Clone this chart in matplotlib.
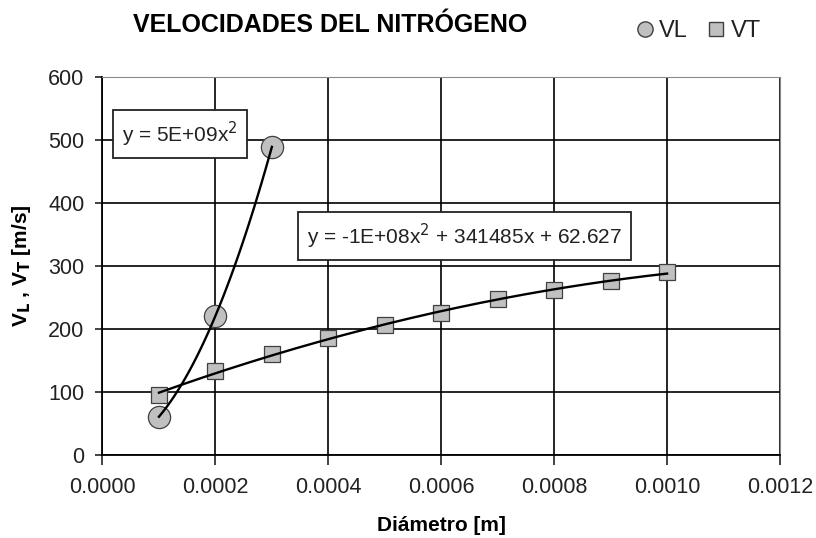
import numpy as np
import matplotlib
matplotlib.use("Agg")
import matplotlib.pyplot as plt
from matplotlib.lines import Line2D

plt.rcParams['font.family'] = ['Liberation Sans', 'DejaVu Sans']

# diametro [m] y velocidades [m/s]
d_vl = [0.0001, 0.0002, 0.0003]
vl = [61, 221, 489]
d_vt = [0.0001, 0.0002, 0.0003, 0.0004, 0.0005, 0.0006, 0.0007, 0.0008, 0.0009, 0.0010]
vt = [95, 133, 161, 186, 206, 226, 247, 262, 276, 290]

eq_vl = "y = 5E+09x$^2$"
eq_vt = "y = -1E+08x$^2$ + 341485x + 62.627"

fig = plt.figure(figsize=(8.16, 5.38), dpi=100)
ax = fig.add_axes([0.1256, 0.154, 0.8303, 0.703])

marker_fill = '#c0c0c0'
marker_edge = '#404040'

# curvas de tendencia (polinomio de grado 2)
xs = np.linspace(min(d_vl), max(d_vl), 100)
ax.plot(xs, np.polyval(np.polyfit(d_vl, vl, 2), xs), color='black', lw=1.7, zorder=3)
xs2 = np.linspace(min(d_vt), max(d_vt), 200)
ax.plot(xs2, np.polyval(np.polyfit(d_vt, vt, 2), xs2), color='black', lw=1.7, zorder=3)

ax.plot(d_vl, vl, 'o', ms=16, mfc=marker_fill, mec=marker_edge, mew=0.9, zorder=2)
ax.plot(d_vt, vt, 's', ms=11, mfc=marker_fill, mec=marker_edge, mew=0.9, zorder=2)

ax.set_xlim(0, 0.0012)
ax.set_ylim(0, 600)
xt = np.arange(0, 0.00121, 0.0002)
ax.set_xticks(xt)
ax.set_xticklabels([f"{t:.4f}" for t in xt])
ax.set_yticks(range(0, 601, 100))
ax.grid(True, color='black', lw=1.2)
ax.set_axisbelow(True)
ax.tick_params(labelsize=15.5, colors='#222222', direction='out', length=5, width=1.2, pad=8)
ax.tick_params(axis='x', length=7, pad=9)

for s in ['top', 'right']:
    ax.spines[s].set_color('#8a8a8a')
for s in ['left', 'bottom']:
    ax.spines[s].set_color('black')
    ax.spines[s].set_linewidth(1.3)

ax.set_xlabel("Diámetro [m]", fontsize=15, fontweight='bold', labelpad=13)
ax.set_ylabel("V$_\\mathbf{L}$ , V$_\\mathbf{T}$ [m/s]", fontsize=15, fontweight='bold', labelpad=11)

box = dict(boxstyle='square,pad=0.45', fc='white', ec='#222222', lw=1.3)
ax.text(0.0000345, 509, eq_vl, fontsize=15, color='#222222', va='center', ha='left', bbox=box, zorder=5)
ax.text(0.000362, 347, eq_vt, fontsize=15, color='#222222', va='center', ha='left', bbox=box, zorder=5)

fig.text(0.404, 0.953, "VELOCIDADES DEL NITRÓGENO", fontsize=18, fontweight='bold', ha='center', va='center')

handles = [Line2D([], [], ls='none', marker='o', ms=11, mfc=marker_fill, mec=marker_edge),
           Line2D([], [], ls='none', marker='s', ms=10.5, mfc=marker_fill, mec=marker_edge)]
fig.legend(handles, ['VL', 'VT'], loc='center', bbox_to_anchor=(0.857, 0.942), ncol=2,
           frameon=False, fontsize=17, handlelength=0.6, handletextpad=0.3, columnspacing=0.9,
           labelcolor='#222222')

fig.savefig("out.png", dpi=100)
